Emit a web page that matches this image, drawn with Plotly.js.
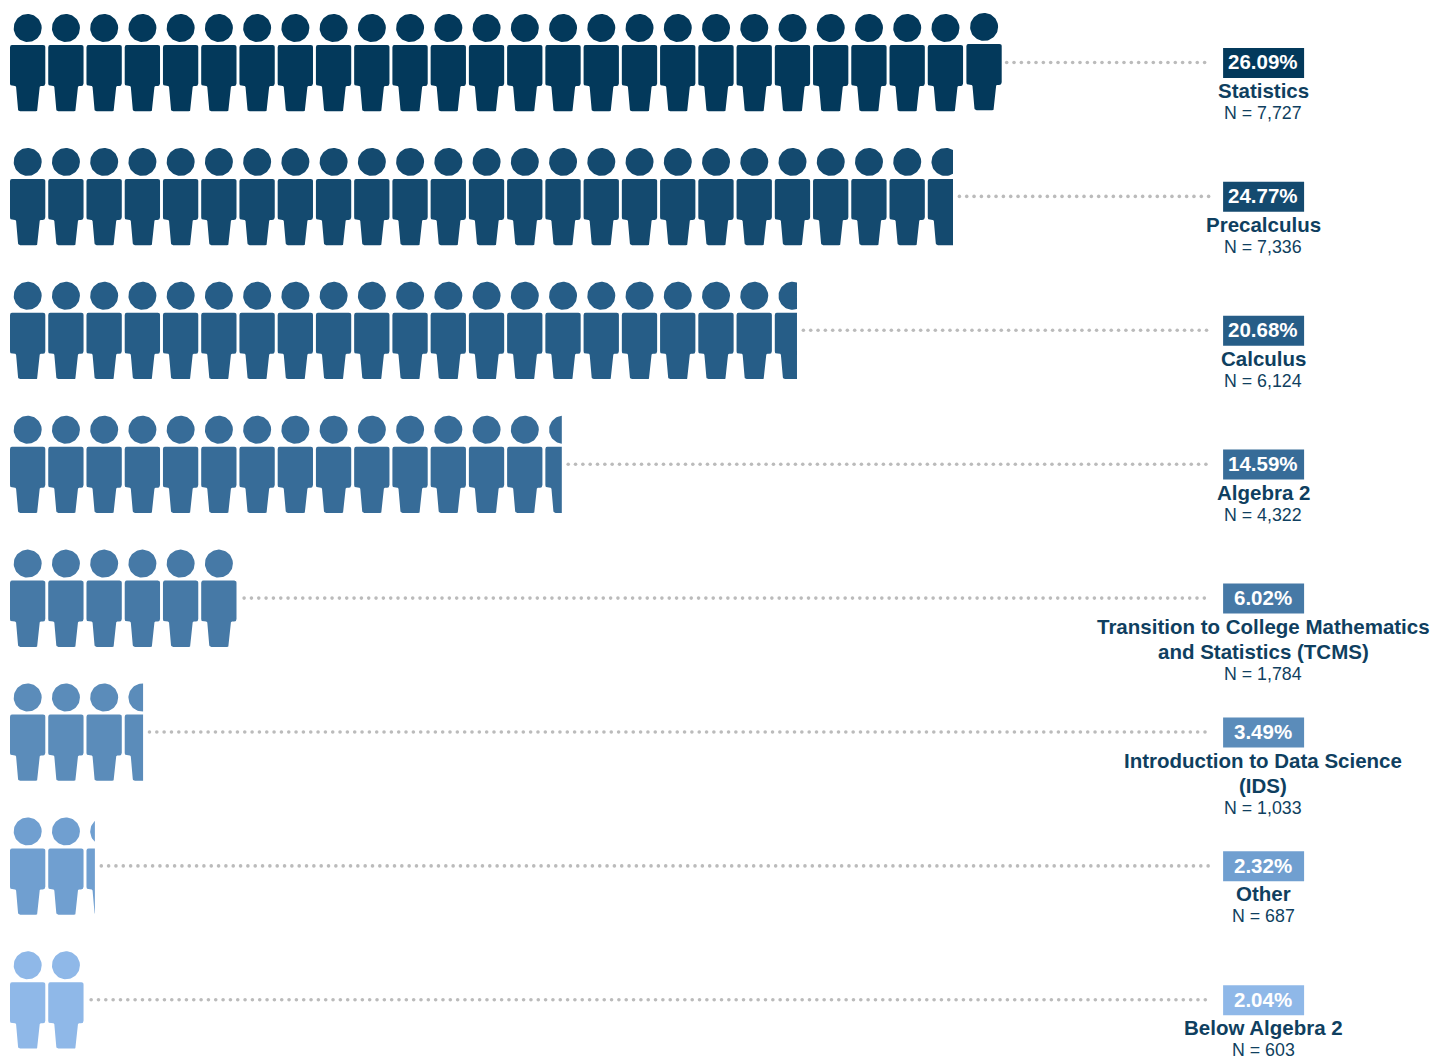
<!DOCTYPE html>
<html>
<head>
<meta charset="utf-8">
<script src="https://cdn.plot.ly/plotly-3.0.1.min.js"></script>
<style>html,body{margin:0;padding:0;background:#fff;overflow:hidden}#chart{width:1433px;height:1057px}</style>
</head>
<body>
<div id="chart"></div>
<script>
const categories = [
  ["Statistics"],
  ["Precalculus"],
  ["Calculus"],
  ["Algebra 2"],
  ["Transition to College Mathematics", "and Statistics (TCMS)"],
  ["Introduction to Data Science", "(IDS)"],
  ["Other"],
  ["Below Algebra 2"]
];
const percents = ["26.09%", "24.77%", "20.68%", "14.59%", "6.02%", "3.49%", "2.32%", "2.04%"];
const counts = ["N = 7,727", "N = 7,336", "N = 6,124", "N = 4,322", "N = 1,784", "N = 1,033", "N = 687", "N = 603"];
// how many icons are visible in each row
const iconsShown = [26, 24.66, 20.58, 14.43, 6, 3.48, 2.22, 2];
const rowColors = ["#03395b", "#144a6f", "#265d87", "#376c98", "#4679a6", "#5b8cba", "#709fd0", "#8fb8e8"];

const TEXT_COLOR = "#0f3f60", DOT_COLOR = "#bbbbbb", FONT = "Liberation Sans, Arial, sans-serif";
const W = 1433, H = 1057;
const PX_PER_ICON = 38.24, PX_PER_ROW = 133.9, LEFT = 10, ROW0 = 62.5;
const ICON_W = 35.3, LABEL_X = 1263, BOX_W = 81, BOX_H = 30;

// icon outline, in pixels relative to the icon's left edge and the row's centre
const bodyOutline = [[0,-17.5,2.2],[ICON_W,-17.5,2.2],[ICON_W,23.5,2.6],[29.8,23.5,1],[27.6,48.8,2],[8.2,48.8,2],[6,23.5,1],[0,23.5,2.6]];
const HEAD = {cx: 17.7, cy: -34.5, r: 14};

function roundedPolygon(v) {
  const out = [];
  for (let i = 0; i < v.length; i++) {
    const p = v[(i - 1 + v.length) % v.length], c = v[i], n = v[(i + 1) % v.length], r = c[2];
    const lp = Math.hypot(p[0]-c[0], p[1]-c[1]), ln = Math.hypot(n[0]-c[0], n[1]-c[1]);
    const a = [c[0]+(p[0]-c[0])*r/lp, c[1]+(p[1]-c[1])*r/lp];
    const b = [c[0]+(n[0]-c[0])*r/ln, c[1]+(n[1]-c[1])*r/ln];
    for (let k = 0; k <= 6; k++) {
      const t = k/6, u = 1-t;
      out.push([u*u*a[0]+2*u*t*c[0]+t*t*b[0], u*u*a[1]+2*u*t*c[1]+t*t*b[1]]);
    }
  }
  return out;
}
function circle(h) {
  const out = [];
  for (let k = 0; k < 72; k++) {
    const t = k/72*2*Math.PI;
    out.push([h.cx+h.r*Math.cos(t), h.cy+h.r*Math.sin(t)]);
  }
  return out;
}
function clipRight(poly, xMax) {
  const out = [];
  for (let i = 0; i < poly.length; i++) {
    const a = poly[i], b = poly[(i+1) % poly.length];
    const ai = a[0] <= xMax, bi = b[0] <= xMax;
    if (ai) out.push(a);
    if (ai !== bi) {
      const t = (xMax-a[0])/(b[0]-a[0]);
      out.push([xMax, a[1]+t*(b[1]-a[1])]);
    }
  }
  return out;
}
const bodyPts = roundedPolygon(bodyOutline);
const headPts = circle(HEAD);
const toY = (row, offsetPx) => row + offsetPx/PX_PER_ROW;
const toX = px => (px-LEFT)/PX_PER_ICON;

const traces = [];
const annotations = [];
const shapes = [];

categories.forEach((lines, row) => {
  const shown = iconsShown[row];
  const xs = [], ys = [];
  const full = Math.ceil(shown - 1e-6);
  for (let n = 0; n < full; n++) {
    // the last icon of the top row sits slightly higher in the source picture
    const nudge = (row === 0 && n === full-1) ? [0.4, -1.1] : [0, 0];
    [bodyPts, headPts].forEach(pts => {
      const placed = pts.map(p => [n + (p[0]+nudge[0])/PX_PER_ICON, p[1]+nudge[1]]);
      const clipped = clipRight(placed, shown === Math.floor(shown) ? n + 2 : shown);
      if (clipped.length < 3) return;
      clipped.forEach(p => { xs.push(p[0]); ys.push(toY(row, p[1])); });
      xs.push(clipped[0][0]); ys.push(toY(row, clipped[0][1]));
      xs.push(null); ys.push(null);
    });
  }
  traces.push({
    type: "scatter", mode: "lines", x: xs, y: ys, fill: "toself",
    fillcolor: rowColors[row], line: {width: 0, color: rowColors[row]},
    hoverinfo: "skip", showlegend: false
  });

  // dotted leader from the end of the icons to the label
  const whole = Number.isInteger(shown);
  const endUnits = whole ? (shown - 1) + (ICON_W + (row === 0 ? 0.4 : 0))/PX_PER_ICON : shown;
  const startPx = LEFT + endUnits*PX_PER_ICON + (row === 0 ? 5 : whole ? 7.6 : 6.4);
  const dx = [], dy = [];
  for (let px = startPx; px <= 1211; px += 7.33) {
    dx.push(toX(px)); dy.push(row);
  }
  traces.push({
    type: "scatter", mode: "markers", x: dx, y: dy,
    marker: {size: 3.6, color: DOT_COLOR, line: {width: 0}},
    hoverinfo: "skip", showlegend: false
  });

  shapes.push({
    type: "rect", xref: "x", yref: "y", layer: "above",
    x0: toX(LABEL_X + 0.6 - BOX_W/2), x1: toX(LABEL_X + 0.6 + BOX_W/2),
    y0: toY(row, 0.4 - BOX_H/2), y1: toY(row, 0.4 + BOX_H/2),
    fillcolor: rowColors[row], line: {width: 0}
  });

  const labelX = toX(LABEL_X);
  annotations.push({
    x: labelX, y: toY(row, -0.6), xref: "x", yref: "y", xanchor: "center", yanchor: "middle",
    text: "<b>"+percents[row]+"</b>", showarrow: false, borderpad: 0,
    font: {family: FONT, size: 20.5, color: "#ffffff"}
  });
  lines.forEach((line, k) => {
    annotations.push({
      x: labelX, y: toY(row, 28 + 25*k), xref: "x", yref: "y", xanchor: "center", yanchor: "middle",
      text: "<b>"+line+"</b>", showarrow: false, borderpad: 0,
      font: {family: FONT, size: 20.5, color: TEXT_COLOR}
    });
  });
  annotations.push({
    x: labelX, y: toY(row, 50.5 + 25*(lines.length-1)), xref: "x", yref: "y", xanchor: "center", yanchor: "middle",
    text: counts[row], showarrow: false, borderpad: 0,
    font: {family: FONT, size: 17.8, color: TEXT_COLOR}
  });
});

const layout = {
  width: W, height: H,
  margin: {l: 0, r: 0, t: 0, b: 0, pad: 0},
  paper_bgcolor: "#ffffff", plot_bgcolor: "#ffffff",
  showlegend: false,
  xaxis: {visible: false, fixedrange: true, range: [-LEFT/PX_PER_ICON, (W-LEFT)/PX_PER_ICON]},
  yaxis: {visible: false, fixedrange: true, range: [(H-ROW0)/PX_PER_ROW, -ROW0/PX_PER_ROW]},
  shapes: shapes,
  annotations: annotations
};
Plotly.newPlot("chart", traces, layout, {displayModeBar: false, staticPlot: true});
</script>
</body>
</html>
